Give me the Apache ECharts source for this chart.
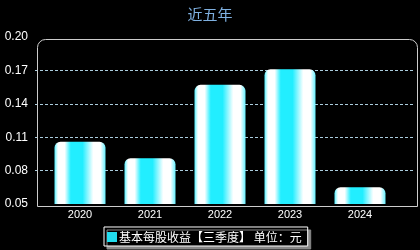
<!DOCTYPE html>
<html><head><meta charset="utf-8">
<script src="https://cdn.jsdelivr.net/npm/echarts@6/dist/echarts.min.js"></script>
<style>html,body{margin:0;padding:0;background:#000;}#c{width:420px;height:250px;}</style>
</head><body><div id="c"></div>
<script>
var categories = ['2020', '2021', '2022', '2023', '2024'];
var eps = [0.106, 0.091, 0.157, 0.171, 0.065];
var yTicks = ['0.05', '0.08', '0.11', '0.14', '0.17', '0.20'];
var seriesName = '基本每股收益【三季度】 单位：元';

var chart = echarts.init(document.getElementById('c'), null, {renderer: 'canvas'});
var barGrad = new echarts.graphic.LinearGradient(0, 0, 1, 0, [
  {offset: 0, color: '#55eeff'},
  {offset: 0.04, color: '#bbfbff'},
  {offset: 0.07, color: '#ffffff'},
  {offset: 0.2, color: '#ffffff'},
  {offset: 0.32, color: '#22eeff'},
  {offset: 0.55, color: '#22eeff'},
  {offset: 0.76, color: '#ffffff'},
  {offset: 0.9, color: '#ffffff'},
  {offset: 1, color: '#66f0ff'}
]);
chart.setOption({
  backgroundColor: '#000',
  animation: false,
  title: {text: '近五年', left: 'center', top: 2, textStyle: {color: '#7fb0e0', fontSize: 15, fontWeight: 'normal', fontFamily: 'Noto Sans CJK SC'}},
  grid: [
    {left: 35, right: 5, top: 37, bottom: 46, show: false},
    {left: 45, right: 25, top: 37, bottom: 46, show: false}
  ],
  graphic: [{type: 'rect', left: 35, top: 37, shape: {width: 380, height: 167, r: [8, 8, 0, 0]}, style: {fill: 'none', stroke: '#cccccc', lineWidth: 1}, z: 10}],
  legend: {
    bottom: 4, left: 104, itemWidth: 10, itemHeight: 10, icon: 'rect',
    backgroundColor: '#000', borderColor: '#ffffff', borderWidth: 1, padding: [4, 6, 3, 3],
    borderRadius: 0, shadowColor: '#888', shadowOffsetX: 3, shadowOffsetY: 3, shadowBlur: 0,
    itemGap: 4,
    textStyle: {color: '#fff', fontSize: 12, fontFamily: 'Noto Sans CJK SC', padding: [0, 0, 0, -3]},
    data: [{name: seriesName, itemStyle: {color: '#22ddee'}}]
  },
  xAxis: [
    {type: 'category', gridIndex: 0, data: categories, show: false},
    {
      type: 'category', gridIndex: 1, data: categories,
      axisLine: {show: false},
      axisTick: {show: false},
      axisLabel: {color: '#fff', fontSize: 11, fontFamily: 'Arial, Liberation Sans', margin: 5}
    }
  ],
  yAxis: [
    {
      type: 'value', gridIndex: 0, min: 0.05, max: 0.20, interval: 0.03,
      axisLine: {show: false},
      axisTick: {show: false},
      axisLabel: {color: '#fff', fontSize: 12, fontFamily: 'Arial, Liberation Sans', margin: 7,
        formatter: function (v) { var i = Math.round((v - 0.05) / 0.03); return yTicks[i] || ''; }},
      splitLine: {show: true, showMinLine: false, showMaxLine: false, lineStyle: {color: '#aaccdd', type: [3, 2], width: 1}}
    },
    {type: 'value', gridIndex: 1, min: 0.05, max: 0.20, interval: 0.03, show: false, splitLine: {show: false}}
  ],
  series: [{
    name: seriesName, type: 'bar', data: eps, barWidth: 51, xAxisIndex: 1, yAxisIndex: 1,
    itemStyle: {color: barGrad, borderRadius: [6, 6, 0, 0]}
  }]
});
</script></body></html>
